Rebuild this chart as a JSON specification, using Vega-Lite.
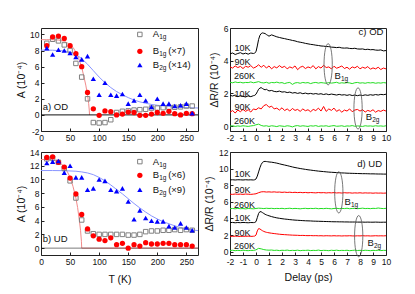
{
"$schema":"https://vega.github.io/schema/vega-lite/v6.json",
"autosize":{"type":"pad"},
"padding":{"left":16,"top":23,"right":2,"bottom":2},
"background":"white",
"config":{
 "font":"Liberation Sans",
 "view":{"stroke":"#222","strokeWidth":1},
 "axis":{"domain":false,"grid":false,"ticks":true,"tickSize":-3,"tickColor":"#222","labelPadding":5,"labelFlush":false,"labelOverlap":false,"labelFontSize":8.5,"labelColor":"#111","titleFontSize":10.5,"titleFontWeight":"normal","titleColor":"#111","labelExpr":"replace(datum.label,'−','-')"}
},
"datasets":{
"pts":[
{"p":"a","s":"A1g","T":10,"A":8.9},{"p":"a","s":"A1g","T":20,"A":9.4},{"p":"a","s":"A1g","T":30,"A":9.2},{"p":"a","s":"A1g","T":40,"A":8.7},{"p":"a","s":"A1g","T":50,"A":8.0},{"p":"a","s":"A1g","T":60,"A":6.4},{"p":"a","s":"A1g","T":70,"A":4.7},{"p":"a","s":"A1g","T":80,"A":2.0},{"p":"a","s":"A1g","T":90,"A":-0.95},{"p":"a","s":"A1g","T":100,"A":-1.0},{"p":"a","s":"A1g","T":110,"A":-0.95},{"p":"a","s":"A1g","T":120,"A":-0.6},{"p":"a","s":"A1g","T":130,"A":0.3},{"p":"a","s":"A1g","T":140,"A":0.45},{"p":"a","s":"A1g","T":150,"A":0.5},{"p":"a","s":"A1g","T":160,"A":0.6},{"p":"a","s":"A1g","T":170,"A":0.65},{"p":"a","s":"A1g","T":180,"A":0.7},{"p":"a","s":"A1g","T":190,"A":0.85},{"p":"a","s":"A1g","T":200,"A":0.85},{"p":"a","s":"A1g","T":210,"A":0.9},{"p":"a","s":"A1g","T":220,"A":0.95},{"p":"a","s":"A1g","T":230,"A":0.95},{"p":"a","s":"A1g","T":240,"A":1.0},{"p":"a","s":"A1g","T":250,"A":1.1},{"p":"a","s":"A1g","T":260,"A":1.1},
{"p":"a","s":"B1g","T":10,"A":8.6},{"p":"a","s":"B1g","T":20,"A":9.7},{"p":"a","s":"B1g","T":30,"A":9.8},{"p":"a","s":"B1g","T":40,"A":9.5},{"p":"a","s":"B1g","T":50,"A":8.6},{"p":"a","s":"B1g","T":60,"A":7.6},{"p":"a","s":"B1g","T":70,"A":6.0},{"p":"a","s":"B1g","T":80,"A":2.8},{"p":"a","s":"B1g","T":90,"A":0.75},{"p":"a","s":"B1g","T":100,"A":-0.05},{"p":"a","s":"B1g","T":110,"A":0.5},{"p":"a","s":"B1g","T":120,"A":0.4},{"p":"a","s":"B1g","T":130,"A":0.0},{"p":"a","s":"B1g","T":140,"A":0.1},{"p":"a","s":"B1g","T":150,"A":0.35},{"p":"a","s":"B1g","T":160,"A":0.3},{"p":"a","s":"B1g","T":170,"A":-0.05},{"p":"a","s":"B1g","T":180,"A":-0.05},{"p":"a","s":"B1g","T":190,"A":0.1},{"p":"a","s":"B1g","T":200,"A":0.3},{"p":"a","s":"B1g","T":210,"A":0.2},{"p":"a","s":"B1g","T":220,"A":0.45},{"p":"a","s":"B1g","T":230,"A":0.15},{"p":"a","s":"B1g","T":240,"A":0.0},{"p":"a","s":"B1g","T":250,"A":0.2},{"p":"a","s":"B1g","T":260,"A":0.15},
{"p":"a","s":"B2g","T":10,"A":8.3},{"p":"a","s":"B2g","T":20,"A":7.5},{"p":"a","s":"B2g","T":30,"A":8.1},{"p":"a","s":"B2g","T":40,"A":8.0},{"p":"a","s":"B2g","T":50,"A":7.7},{"p":"a","s":"B2g","T":60,"A":7.2},{"p":"a","s":"B2g","T":70,"A":6.9},{"p":"a","s":"B2g","T":80,"A":7.3},{"p":"a","s":"B2g","T":90,"A":4.5},{"p":"a","s":"B2g","T":100,"A":2.5},{"p":"a","s":"B2g","T":110,"A":4.0},{"p":"a","s":"B2g","T":120,"A":2.5},{"p":"a","s":"B2g","T":130,"A":2.4},{"p":"a","s":"B2g","T":140,"A":2.6},{"p":"a","s":"B2g","T":150,"A":1.4},{"p":"a","s":"B2g","T":160,"A":1.8},{"p":"a","s":"B2g","T":170,"A":2.5},{"p":"a","s":"B2g","T":180,"A":1.8},{"p":"a","s":"B2g","T":190,"A":1.0},{"p":"a","s":"B2g","T":200,"A":2.0},{"p":"a","s":"B2g","T":210,"A":1.4},{"p":"a","s":"B2g","T":220,"A":1.4},{"p":"a","s":"B2g","T":230,"A":1.1},{"p":"a","s":"B2g","T":240,"A":1.2},{"p":"a","s":"B2g","T":250,"A":1.4},{"p":"a","s":"B2g","T":260,"A":0.2},
{"p":"b","s":"A1g","T":10,"A":13.0},{"p":"b","s":"A1g","T":20,"A":13.1},{"p":"b","s":"A1g","T":30,"A":12.5},{"p":"b","s":"A1g","T":40,"A":11.6},{"p":"b","s":"A1g","T":50,"A":9.8},{"p":"b","s":"A1g","T":60,"A":7.3},{"p":"b","s":"A1g","T":70,"A":4.1},{"p":"b","s":"A1g","T":80,"A":2.5},{"p":"b","s":"A1g","T":90,"A":2.1},{"p":"b","s":"A1g","T":100,"A":2.0},{"p":"b","s":"A1g","T":110,"A":2.0},{"p":"b","s":"A1g","T":120,"A":2.0},{"p":"b","s":"A1g","T":130,"A":2.0},{"p":"b","s":"A1g","T":140,"A":2.0},{"p":"b","s":"A1g","T":150,"A":1.9},{"p":"b","s":"A1g","T":160,"A":1.9},{"p":"b","s":"A1g","T":170,"A":2.0},{"p":"b","s":"A1g","T":180,"A":2.4},{"p":"b","s":"A1g","T":190,"A":2.5},{"p":"b","s":"A1g","T":200,"A":2.5},{"p":"b","s":"A1g","T":210,"A":2.6},{"p":"b","s":"A1g","T":220,"A":2.6},{"p":"b","s":"A1g","T":230,"A":2.7},{"p":"b","s":"A1g","T":240,"A":2.6},{"p":"b","s":"A1g","T":250,"A":2.7},{"p":"b","s":"A1g","T":260,"A":2.6},
{"p":"b","s":"B1g","T":10,"A":13.2},{"p":"b","s":"B1g","T":20,"A":13.3},{"p":"b","s":"B1g","T":30,"A":12.5},{"p":"b","s":"B1g","T":40,"A":11.8},{"p":"b","s":"B1g","T":50,"A":10.2},{"p":"b","s":"B1g","T":60,"A":7.9},{"p":"b","s":"B1g","T":70,"A":4.9},{"p":"b","s":"B1g","T":80,"A":2.8},{"p":"b","s":"B1g","T":90,"A":1.8},{"p":"b","s":"B1g","T":100,"A":1.3},{"p":"b","s":"B1g","T":110,"A":1.1},{"p":"b","s":"B1g","T":120,"A":1.5},{"p":"b","s":"B1g","T":130,"A":0.5},{"p":"b","s":"B1g","T":140,"A":0.7},{"p":"b","s":"B1g","T":150,"A":0.0},{"p":"b","s":"B1g","T":160,"A":0.5},{"p":"b","s":"B1g","T":170,"A":0.3},{"p":"b","s":"B1g","T":180,"A":0.8},{"p":"b","s":"B1g","T":190,"A":0.6},{"p":"b","s":"B1g","T":200,"A":0.6},{"p":"b","s":"B1g","T":210,"A":0.7},{"p":"b","s":"B1g","T":220,"A":0.7},{"p":"b","s":"B1g","T":230,"A":0.5},{"p":"b","s":"B1g","T":240,"A":0.5},{"p":"b","s":"B1g","T":250,"A":0.5},{"p":"b","s":"B1g","T":260,"A":0.3},
{"p":"b","s":"B2g","T":10,"A":12.4},{"p":"b","s":"B2g","T":20,"A":12.6},{"p":"b","s":"B2g","T":30,"A":12.7},{"p":"b","s":"B2g","T":40,"A":11.0},{"p":"b","s":"B2g","T":50,"A":12.0},{"p":"b","s":"B2g","T":60,"A":10.3},{"p":"b","s":"B2g","T":70,"A":10.3},{"p":"b","s":"B2g","T":80,"A":8.5},{"p":"b","s":"B2g","T":90,"A":8.7},{"p":"b","s":"B2g","T":100,"A":10.0},{"p":"b","s":"B2g","T":110,"A":9.8},{"p":"b","s":"B2g","T":120,"A":8.5},{"p":"b","s":"B2g","T":130,"A":8.3},{"p":"b","s":"B2g","T":140,"A":8.7},{"p":"b","s":"B2g","T":150,"A":6.8},{"p":"b","s":"B2g","T":160,"A":4.2},{"p":"b","s":"B2g","T":170,"A":5.5},{"p":"b","s":"B2g","T":180,"A":4.4},{"p":"b","s":"B2g","T":190,"A":4.0},{"p":"b","s":"B2g","T":200,"A":3.9},{"p":"b","s":"B2g","T":210,"A":3.9},{"p":"b","s":"B2g","T":220,"A":3.2},{"p":"b","s":"B2g","T":230,"A":3.0},{"p":"b","s":"B2g","T":240,"A":3.6},{"p":"b","s":"B2g","T":250,"A":3.0},{"p":"b","s":"B2g","T":260,"A":2.6}
],
"fit":[
{"p":"a","s":"fB1g","T":0,"A":9.35},{"p":"a","s":"fB1g","T":10,"A":9.35},{"p":"a","s":"fB1g","T":20,"A":9.34},{"p":"a","s":"fB1g","T":30,"A":9.3},{"p":"a","s":"fB1g","T":40,"A":9.15},{"p":"a","s":"fB1g","T":50,"A":8.75},{"p":"a","s":"fB1g","T":55,"A":8.4},{"p":"a","s":"fB1g","T":60,"A":7.8},{"p":"a","s":"fB1g","T":65,"A":7.0},{"p":"a","s":"fB1g","T":70,"A":5.9},{"p":"a","s":"fB1g","T":74,"A":4.7},{"p":"a","s":"fB1g","T":77,"A":3.7},{"p":"a","s":"fB1g","T":80,"A":2.5},{"p":"a","s":"fB1g","T":82,"A":1.4},{"p":"a","s":"fB1g","T":83,"A":0.6},{"p":"a","s":"fB1g","T":83.5,"A":0},
{"p":"a","s":"fB2g","T":0,"A":8.05},{"p":"a","s":"fB2g","T":20,"A":8.04},{"p":"a","s":"fB2g","T":40,"A":7.95},{"p":"a","s":"fB2g","T":50,"A":7.8},{"p":"a","s":"fB2g","T":60,"A":7.5},{"p":"a","s":"fB2g","T":70,"A":7.0},{"p":"a","s":"fB2g","T":80,"A":6.3},{"p":"a","s":"fB2g","T":90,"A":5.5},{"p":"a","s":"fB2g","T":100,"A":4.7},{"p":"a","s":"fB2g","T":110,"A":4.0},{"p":"a","s":"fB2g","T":120,"A":3.4},{"p":"a","s":"fB2g","T":130,"A":2.9},{"p":"a","s":"fB2g","T":140,"A":2.5},{"p":"a","s":"fB2g","T":150,"A":2.15},{"p":"a","s":"fB2g","T":160,"A":1.85},{"p":"a","s":"fB2g","T":170,"A":1.62},{"p":"a","s":"fB2g","T":180,"A":1.45},{"p":"a","s":"fB2g","T":190,"A":1.3},{"p":"a","s":"fB2g","T":200,"A":1.2},{"p":"a","s":"fB2g","T":220,"A":1.05},{"p":"a","s":"fB2g","T":240,"A":0.95},{"p":"a","s":"fB2g","T":260,"A":0.88},{"p":"a","s":"fB2g","T":270,"A":0.86},
{"p":"b","s":"fB1g","T":0,"A":12.9},{"p":"b","s":"fB1g","T":10,"A":12.9},{"p":"b","s":"fB1g","T":20,"A":12.85},{"p":"b","s":"fB1g","T":30,"A":12.6},{"p":"b","s":"fB1g","T":40,"A":11.9},{"p":"b","s":"fB1g","T":45,"A":11.2},{"p":"b","s":"fB1g","T":50,"A":10.3},{"p":"b","s":"fB1g","T":55,"A":9.0},{"p":"b","s":"fB1g","T":60,"A":7.3},{"p":"b","s":"fB1g","T":63,"A":5.9},{"p":"b","s":"fB1g","T":66,"A":4.0},{"p":"b","s":"fB1g","T":68,"A":2.6},{"p":"b","s":"fB1g","T":69.5,"A":1.0},{"p":"b","s":"fB1g","T":70,"A":0},{"p":"b","s":"fB1g","T":270,"A":0},
{"p":"b","s":"fB2g","T":0,"A":11.3},{"p":"b","s":"fB2g","T":20,"A":11.3},{"p":"b","s":"fB2g","T":40,"A":11.28},{"p":"b","s":"fB2g","T":60,"A":11.2},{"p":"b","s":"fB2g","T":70,"A":11.1},{"p":"b","s":"fB2g","T":80,"A":10.95},{"p":"b","s":"fB2g","T":90,"A":10.7},{"p":"b","s":"fB2g","T":100,"A":10.3},{"p":"b","s":"fB2g","T":110,"A":9.8},{"p":"b","s":"fB2g","T":120,"A":9.2},{"p":"b","s":"fB2g","T":130,"A":8.55},{"p":"b","s":"fB2g","T":140,"A":7.9},{"p":"b","s":"fB2g","T":150,"A":7.2},{"p":"b","s":"fB2g","T":160,"A":6.5},{"p":"b","s":"fB2g","T":170,"A":5.85},{"p":"b","s":"fB2g","T":180,"A":5.25},{"p":"b","s":"fB2g","T":190,"A":4.7},{"p":"b","s":"fB2g","T":200,"A":4.25},{"p":"b","s":"fB2g","T":210,"A":3.85},{"p":"b","s":"fB2g","T":220,"A":3.55},{"p":"b","s":"fB2g","T":230,"A":3.25},{"p":"b","s":"fB2g","T":240,"A":3.0},{"p":"b","s":"fB2g","T":250,"A":2.8},{"p":"b","s":"fB2g","T":260,"A":2.65},{"p":"b","s":"fB2g","T":270,"A":2.55}
],
"legA":[{"s":"A1g","T":170,"A":10.0},{"s":"B1g","T":170,"A":7.9},{"s":"B2g","T":170,"A":6.2}],
"legAt":[{"T":192,"A":10.0,"m":"A","sub":"1g","x":""},{"T":192,"A":7.9,"m":"B","sub":"1g","x":"(×7)"},{"T":192,"A":6.2,"m":"B","sub":"2g","x":"(×14)"}],
"legB":[{"s":"A1g","T":170,"A":12.6},{"s":"B1g","T":170,"A":10.6},{"s":"B2g","T":170,"A":8.5}],
"legBt":[{"T":192,"A":12.6,"m":"A","sub":"1g","x":""},{"T":192,"A":10.6,"m":"B","sub":"1g","x":"(×6)"},{"T":192,"A":8.5,"m":"B","sub":"2g","x":"(×9)"}],
"lab":[
{"p":"c","t":-1.65,"v":4.8,"txt":"10K"},{"p":"c","t":-1.65,"v":3.95,"txt":"90K"},{"p":"c","t":-1.7,"v":3.07,"txt":"260K"},{"p":"c","t":-1.65,"v":1.95,"txt":"10K"},{"p":"c","t":-1.65,"v":1.15,"txt":"90K"},{"p":"c","t":-1.7,"v":0.33,"txt":"260K"},
{"p":"d","t":-1.65,"v":9.3,"txt":"10K"},{"p":"d","t":-1.65,"v":7.4,"txt":"90K"},{"p":"d","t":-1.7,"v":5.6,"txt":"260K"},{"p":"d","t":-1.65,"v":4.1,"txt":"10K"},{"p":"d","t":-1.65,"v":2.3,"txt":"90K"},{"p":"d","t":-1.7,"v":0.67,"txt":"260K"}
],
"ell":[{"p":"c","t":5.55,"v":3.78},{"p":"c","t":7.85,"v":1.08},{"p":"d","t":6.37,"v":7.14},{"p":"d","t":7.9,"v":1.87}],
"bl":[{"p":"c","t":6.03,"v":3.05,"m":"B","sub":"1g"},{"p":"c","t":8.44,"v":0.55,"m":"B","sub":"2g"},{"p":"d","t":6.8,"v":6.0,"m":"B","sub":"1g"},{"p":"d","t":8.57,"v":1.07,"m":"B","sub":"2g"}],
"tr":[
{"k":"c1","t":-2,"v":4.42},{"k":"c1","t":-1.8,"v":4.47},{"k":"c1","t":-1.6,"v":4.38},{"k":"c1","t":-1.4,"v":4.44},{"k":"c1","t":-1.2,"v":4.49},{"k":"c1","t":-1,"v":4.41},{"k":"c1","t":-0.8,"v":4.46},{"k":"c1","t":-0.6,"v":4.4},{"k":"c1","t":-0.4,"v":4.47},{"k":"c1","t":-0.2,"v":4.44},{"k":"c1","t":-0.1,"v":4.47},{"k":"c1","t":0,"v":4.55},{"k":"c1","t":0.1,"v":4.9},{"k":"c1","t":0.2,"v":5.3},{"k":"c1","t":0.3,"v":5.55},{"k":"c1","t":0.4,"v":5.66},{"k":"c1","t":0.5,"v":5.7},{"k":"c1","t":0.6,"v":5.68},{"k":"c1","t":0.7,"v":5.66},{"k":"c1","t":0.8,"v":5.6},{"k":"c1","t":0.9,"v":5.55},{"k":"c1","t":1,"v":5.5},{"k":"c1","t":1.2,"v":5.58},{"k":"c1","t":1.4,"v":5.52},{"k":"c1","t":1.6,"v":5.46},{"k":"c1","t":1.8,"v":5.42},{"k":"c1","t":2,"v":5.38},{"k":"c1","t":2.2,"v":5.35},{"k":"c1","t":2.4,"v":5.31},{"k":"c1","t":2.6,"v":5.28},{"k":"c1","t":2.8,"v":5.24},{"k":"c1","t":3,"v":5.21},{"k":"c1","t":3.2,"v":5.16},{"k":"c1","t":3.4,"v":5.13},{"k":"c1","t":3.6,"v":5.1},{"k":"c1","t":3.8,"v":5.06},{"k":"c1","t":4,"v":5.03},{"k":"c1","t":4.2,"v":5.0},{"k":"c1","t":4.4,"v":4.98},{"k":"c1","t":4.6,"v":4.95},{"k":"c1","t":4.8,"v":4.93},{"k":"c1","t":5,"v":4.9},{"k":"c1","t":5.2,"v":4.89},{"k":"c1","t":5.4,"v":4.87},{"k":"c1","t":5.6,"v":4.86},{"k":"c1","t":5.8,"v":4.83},{"k":"c1","t":6,"v":4.82},{"k":"c1","t":6.2,"v":4.8},{"k":"c1","t":6.4,"v":4.82},{"k":"c1","t":6.6,"v":4.78},{"k":"c1","t":6.8,"v":4.77},{"k":"c1","t":7,"v":4.78},{"k":"c1","t":7.2,"v":4.75},{"k":"c1","t":7.4,"v":4.74},{"k":"c1","t":7.6,"v":4.76},{"k":"c1","t":7.8,"v":4.72},{"k":"c1","t":8,"v":4.71},{"k":"c1","t":8.2,"v":4.72},{"k":"c1","t":8.4,"v":4.68},{"k":"c1","t":8.6,"v":4.7},{"k":"c1","t":8.8,"v":4.67},{"k":"c1","t":9,"v":4.68},{"k":"c1","t":9.2,"v":4.65},{"k":"c1","t":9.4,"v":4.64},{"k":"c1","t":9.6,"v":4.66},{"k":"c1","t":9.8,"v":4.6},{"k":"c1","t":10,"v":4.62},
{"k":"c2","t":-2,"v":3.62},{"k":"c2","t":-1.8,"v":3.55},{"k":"c2","t":-1.6,"v":3.68},{"k":"c2","t":-1.4,"v":3.58},{"k":"c2","t":-1.2,"v":3.65},{"k":"c2","t":-1,"v":3.52},{"k":"c2","t":-0.8,"v":3.66},{"k":"c2","t":-0.6,"v":3.6},{"k":"c2","t":-0.4,"v":3.7},{"k":"c2","t":-0.2,"v":3.55},{"k":"c2","t":0,"v":3.62},{"k":"c2","t":0.2,"v":3.75},{"k":"c2","t":0.4,"v":3.6},{"k":"c2","t":0.6,"v":3.72},{"k":"c2","t":0.8,"v":3.55},{"k":"c2","t":1,"v":3.68},{"k":"c2","t":1.2,"v":3.5},{"k":"c2","t":1.4,"v":3.64},{"k":"c2","t":1.6,"v":3.56},{"k":"c2","t":1.8,"v":3.7},{"k":"c2","t":2,"v":3.58},{"k":"c2","t":2.2,"v":3.66},{"k":"c2","t":2.4,"v":3.5},{"k":"c2","t":2.6,"v":3.62},{"k":"c2","t":2.8,"v":3.55},{"k":"c2","t":3,"v":3.68},{"k":"c2","t":3.2,"v":3.45},{"k":"c2","t":3.4,"v":3.6},{"k":"c2","t":3.6,"v":3.66},{"k":"c2","t":3.8,"v":3.52},{"k":"c2","t":4,"v":3.62},{"k":"c2","t":4.2,"v":3.56},{"k":"c2","t":4.4,"v":3.7},{"k":"c2","t":4.6,"v":3.5},{"k":"c2","t":4.8,"v":3.64},{"k":"c2","t":5,"v":3.55},{"k":"c2","t":5.2,"v":3.72},{"k":"c2","t":5.4,"v":3.58},{"k":"c2","t":5.6,"v":3.62},{"k":"c2","t":5.8,"v":3.5},{"k":"c2","t":6,"v":3.66},{"k":"c2","t":6.2,"v":3.54},{"k":"c2","t":6.4,"v":3.6},{"k":"c2","t":6.6,"v":3.68},{"k":"c2","t":6.8,"v":3.52},{"k":"c2","t":7,"v":3.6},{"k":"c2","t":7.2,"v":3.48},{"k":"c2","t":7.4,"v":3.62},{"k":"c2","t":7.6,"v":3.56},{"k":"c2","t":7.8,"v":3.66},{"k":"c2","t":8,"v":3.5},{"k":"c2","t":8.2,"v":3.6},{"k":"c2","t":8.4,"v":3.54},{"k":"c2","t":8.6,"v":3.64},{"k":"c2","t":8.8,"v":3.48},{"k":"c2","t":9,"v":3.56},{"k":"c2","t":9.2,"v":3.5},{"k":"c2","t":9.4,"v":3.6},{"k":"c2","t":9.6,"v":3.46},{"k":"c2","t":9.8,"v":3.55},{"k":"c2","t":10,"v":3.5},
{"k":"c3","t":-2,"v":2.68},{"k":"c3","t":-1.8,"v":2.65},{"k":"c3","t":-1.6,"v":2.7},{"k":"c3","t":-1.4,"v":2.66},{"k":"c3","t":-1.2,"v":2.68},{"k":"c3","t":-1,"v":2.64},{"k":"c3","t":-0.8,"v":2.67},{"k":"c3","t":-0.6,"v":2.66},{"k":"c3","t":-0.4,"v":2.7},{"k":"c3","t":-0.2,"v":2.65},{"k":"c3","t":0,"v":2.68},{"k":"c3","t":0.2,"v":2.72},{"k":"c3","t":0.4,"v":2.66},{"k":"c3","t":0.6,"v":2.64},{"k":"c3","t":0.8,"v":2.68},{"k":"c3","t":1,"v":2.62},{"k":"c3","t":1.2,"v":2.67},{"k":"c3","t":1.4,"v":2.65},{"k":"c3","t":1.6,"v":2.69},{"k":"c3","t":1.8,"v":2.64},{"k":"c3","t":2,"v":2.66},{"k":"c3","t":2.2,"v":2.6},{"k":"c3","t":2.4,"v":2.65},{"k":"c3","t":2.6,"v":2.67},{"k":"c3","t":2.8,"v":2.55},{"k":"c3","t":3,"v":2.64},{"k":"c3","t":3.2,"v":2.66},{"k":"c3","t":3.4,"v":2.62},{"k":"c3","t":3.6,"v":2.67},{"k":"c3","t":3.8,"v":2.64},{"k":"c3","t":4,"v":2.66},{"k":"c3","t":4.2,"v":2.6},{"k":"c3","t":4.4,"v":2.65},{"k":"c3","t":4.6,"v":2.67},{"k":"c3","t":4.8,"v":2.63},{"k":"c3","t":5,"v":2.66},{"k":"c3","t":5.2,"v":2.64},{"k":"c3","t":5.4,"v":2.62},{"k":"c3","t":5.6,"v":2.66},{"k":"c3","t":5.8,"v":2.63},{"k":"c3","t":6,"v":2.65},{"k":"c3","t":6.2,"v":2.68},{"k":"c3","t":6.4,"v":2.62},{"k":"c3","t":6.6,"v":2.65},{"k":"c3","t":6.8,"v":2.63},{"k":"c3","t":7,"v":2.66},{"k":"c3","t":7.2,"v":2.64},{"k":"c3","t":7.4,"v":2.6},{"k":"c3","t":7.6,"v":2.65},{"k":"c3","t":7.8,"v":2.67},{"k":"c3","t":8,"v":2.63},{"k":"c3","t":8.2,"v":2.65},{"k":"c3","t":8.4,"v":2.62},{"k":"c3","t":8.6,"v":2.66},{"k":"c3","t":8.8,"v":2.64},{"k":"c3","t":9,"v":2.66},{"k":"c3","t":9.2,"v":2.62},{"k":"c3","t":9.4,"v":2.65},{"k":"c3","t":9.6,"v":2.63},{"k":"c3","t":9.8,"v":2.66},{"k":"c3","t":10,"v":2.64},
{"k":"c4","t":-2,"v":1.88},{"k":"c4","t":-1.8,"v":1.84},{"k":"c4","t":-1.6,"v":1.9},{"k":"c4","t":-1.4,"v":1.8},{"k":"c4","t":-1.2,"v":1.86},{"k":"c4","t":-1,"v":1.82},{"k":"c4","t":-0.8,"v":1.78},{"k":"c4","t":-0.6,"v":1.85},{"k":"c4","t":-0.4,"v":1.8},{"k":"c4","t":-0.2,"v":1.86},{"k":"c4","t":-0.1,"v":1.88},{"k":"c4","t":0,"v":1.95},{"k":"c4","t":0.1,"v":2.1},{"k":"c4","t":0.2,"v":2.25},{"k":"c4","t":0.3,"v":2.33},{"k":"c4","t":0.4,"v":2.35},{"k":"c4","t":0.5,"v":2.3},{"k":"c4","t":0.6,"v":2.25},{"k":"c4","t":0.7,"v":2.22},{"k":"c4","t":0.8,"v":2.25},{"k":"c4","t":0.9,"v":2.2},{"k":"c4","t":1,"v":2.15},{"k":"c4","t":1.2,"v":2.18},{"k":"c4","t":1.4,"v":2.12},{"k":"c4","t":1.6,"v":2.1},{"k":"c4","t":1.8,"v":2.14},{"k":"c4","t":2,"v":2.08},{"k":"c4","t":2.2,"v":2.1},{"k":"c4","t":2.4,"v":2.05},{"k":"c4","t":2.6,"v":2.08},{"k":"c4","t":2.8,"v":2.02},{"k":"c4","t":3,"v":2.05},{"k":"c4","t":3.2,"v":2.0},{"k":"c4","t":3.4,"v":2.04},{"k":"c4","t":3.6,"v":1.98},{"k":"c4","t":3.8,"v":2.02},{"k":"c4","t":4,"v":1.97},{"k":"c4","t":4.2,"v":2.0},{"k":"c4","t":4.4,"v":1.96},{"k":"c4","t":4.6,"v":1.99},{"k":"c4","t":4.8,"v":1.95},{"k":"c4","t":5,"v":1.98},{"k":"c4","t":5.2,"v":1.93},{"k":"c4","t":5.4,"v":1.97},{"k":"c4","t":5.6,"v":1.92},{"k":"c4","t":5.8,"v":1.96},{"k":"c4","t":6,"v":1.93},{"k":"c4","t":6.2,"v":1.9},{"k":"c4","t":6.4,"v":1.94},{"k":"c4","t":6.6,"v":1.9},{"k":"c4","t":6.8,"v":1.92},{"k":"c4","t":7,"v":1.88},{"k":"c4","t":7.2,"v":1.92},{"k":"c4","t":7.4,"v":1.87},{"k":"c4","t":7.6,"v":1.9},{"k":"c4","t":7.8,"v":1.86},{"k":"c4","t":8,"v":1.9},{"k":"c4","t":8.2,"v":1.87},{"k":"c4","t":8.4,"v":1.91},{"k":"c4","t":8.6,"v":1.88},{"k":"c4","t":8.8,"v":1.92},{"k":"c4","t":9,"v":1.89},{"k":"c4","t":9.2,"v":1.93},{"k":"c4","t":9.4,"v":1.9},{"k":"c4","t":9.6,"v":1.94},{"k":"c4","t":9.8,"v":1.92},{"k":"c4","t":10,"v":1.95},
{"k":"c5","t":-2,"v":0.85},{"k":"c5","t":-1.8,"v":0.95},{"k":"c5","t":-1.6,"v":0.8},{"k":"c5","t":-1.4,"v":0.98},{"k":"c5","t":-1.2,"v":0.88},{"k":"c5","t":-1,"v":1.02},{"k":"c5","t":-0.8,"v":0.9},{"k":"c5","t":-0.6,"v":1.0},{"k":"c5","t":-0.4,"v":0.86},{"k":"c5","t":-0.2,"v":1.05},{"k":"c5","t":0,"v":1.0},{"k":"c5","t":0.2,"v":1.12},{"k":"c5","t":0.4,"v":1.05},{"k":"c5","t":0.6,"v":1.25},{"k":"c5","t":0.8,"v":1.32},{"k":"c5","t":1,"v":1.15},{"k":"c5","t":1.2,"v":1.22},{"k":"c5","t":1.4,"v":1.05},{"k":"c5","t":1.6,"v":1.1},{"k":"c5","t":1.8,"v":0.98},{"k":"c5","t":2,"v":1.12},{"k":"c5","t":2.2,"v":0.95},{"k":"c5","t":2.4,"v":1.05},{"k":"c5","t":2.6,"v":0.92},{"k":"c5","t":2.8,"v":1.08},{"k":"c5","t":3,"v":0.96},{"k":"c5","t":3.2,"v":1.02},{"k":"c5","t":3.4,"v":0.9},{"k":"c5","t":3.6,"v":1.05},{"k":"c5","t":3.8,"v":0.94},{"k":"c5","t":4,"v":1.0},{"k":"c5","t":4.2,"v":0.88},{"k":"c5","t":4.4,"v":1.02},{"k":"c5","t":4.6,"v":0.95},{"k":"c5","t":4.8,"v":1.1},{"k":"c5","t":5,"v":0.92},{"k":"c5","t":5.2,"v":1.2},{"k":"c5","t":5.4,"v":0.9},{"k":"c5","t":5.6,"v":1.05},{"k":"c5","t":5.8,"v":0.96},{"k":"c5","t":6,"v":1.1},{"k":"c5","t":6.2,"v":0.9},{"k":"c5","t":6.4,"v":1.0},{"k":"c5","t":6.6,"v":0.85},{"k":"c5","t":6.8,"v":0.98},{"k":"c5","t":7,"v":0.92},{"k":"c5","t":7.2,"v":1.05},{"k":"c5","t":7.4,"v":0.88},{"k":"c5","t":7.6,"v":0.98},{"k":"c5","t":7.8,"v":1.02},{"k":"c5","t":8,"v":0.92},{"k":"c5","t":8.2,"v":1.0},{"k":"c5","t":8.4,"v":0.86},{"k":"c5","t":8.6,"v":0.96},{"k":"c5","t":8.8,"v":0.9},{"k":"c5","t":9,"v":1.0},{"k":"c5","t":9.2,"v":0.85},{"k":"c5","t":9.4,"v":0.95},{"k":"c5","t":9.6,"v":0.9},{"k":"c5","t":9.8,"v":0.98},{"k":"c5","t":10,"v":0.92},
{"k":"c6","t":-2,"v":0.0},{"k":"c6","t":-1.8,"v":0.02},{"k":"c6","t":-1.6,"v":-0.02},{"k":"c6","t":-1.4,"v":0.01},{"k":"c6","t":-1.2,"v":-0.01},{"k":"c6","t":-1,"v":0.02},{"k":"c6","t":-0.8,"v":0.0},{"k":"c6","t":-0.6,"v":-0.02},{"k":"c6","t":-0.4,"v":0.01},{"k":"c6","t":-0.2,"v":0.03},{"k":"c6","t":0,"v":0.08},{"k":"c6","t":0.2,"v":0.12},{"k":"c6","t":0.4,"v":0.04},{"k":"c6","t":0.6,"v":0.0},{"k":"c6","t":0.8,"v":0.02},{"k":"c6","t":1,"v":-0.02},{"k":"c6","t":1.2,"v":0.02},{"k":"c6","t":1.4,"v":0.0},{"k":"c6","t":1.6,"v":-0.03},{"k":"c6","t":1.8,"v":0.02},{"k":"c6","t":2,"v":0.0},{"k":"c6","t":2.2,"v":-0.02},{"k":"c6","t":2.4,"v":0.02},{"k":"c6","t":2.6,"v":0.0},{"k":"c6","t":2.8,"v":-0.05},{"k":"c6","t":3,"v":0.01},{"k":"c6","t":3.2,"v":0.03},{"k":"c6","t":3.4,"v":-0.01},{"k":"c6","t":3.6,"v":0.02},{"k":"c6","t":3.8,"v":0.0},{"k":"c6","t":4,"v":-0.02},{"k":"c6","t":4.2,"v":0.02},{"k":"c6","t":4.4,"v":0.0},{"k":"c6","t":4.6,"v":0.03},{"k":"c6","t":4.8,"v":-0.02},{"k":"c6","t":5,"v":0.01},{"k":"c6","t":5.2,"v":0.0},{"k":"c6","t":5.4,"v":0.02},{"k":"c6","t":5.6,"v":-0.02},{"k":"c6","t":5.8,"v":0.01},{"k":"c6","t":6,"v":0.03},{"k":"c6","t":6.2,"v":-0.01},{"k":"c6","t":6.4,"v":0.0},{"k":"c6","t":6.6,"v":0.02},{"k":"c6","t":6.8,"v":-0.02},{"k":"c6","t":7,"v":0.01},{"k":"c6","t":7.2,"v":0.0},{"k":"c6","t":7.4,"v":0.03},{"k":"c6","t":7.6,"v":-0.01},{"k":"c6","t":7.8,"v":0.01},{"k":"c6","t":8,"v":0.0},{"k":"c6","t":8.2,"v":-0.02},{"k":"c6","t":8.4,"v":0.02},{"k":"c6","t":8.6,"v":0.0},{"k":"c6","t":8.8,"v":0.01},{"k":"c6","t":9,"v":-0.01},{"k":"c6","t":9.2,"v":0.02},{"k":"c6","t":9.4,"v":0.0},{"k":"c6","t":9.6,"v":0.01},{"k":"c6","t":9.8,"v":-0.01},{"k":"c6","t":10,"v":0.02},
{"k":"d1","t":-2,"v":8.64},{"k":"d1","t":-1.8,"v":8.66},{"k":"d1","t":-1.6,"v":8.63},{"k":"d1","t":-1.4,"v":8.66},{"k":"d1","t":-1.2,"v":8.65},{"k":"d1","t":-1,"v":8.63},{"k":"d1","t":-0.8,"v":8.66},{"k":"d1","t":-0.6,"v":8.64},{"k":"d1","t":-0.4,"v":8.65},{"k":"d1","t":-0.2,"v":8.63},{"k":"d1","t":-0.1,"v":8.66},{"k":"d1","t":0,"v":8.75},{"k":"d1","t":0.1,"v":9.1},{"k":"d1","t":0.2,"v":9.6},{"k":"d1","t":0.3,"v":10.1},{"k":"d1","t":0.4,"v":10.5},{"k":"d1","t":0.5,"v":10.75},{"k":"d1","t":0.6,"v":10.85},{"k":"d1","t":0.7,"v":10.87},{"k":"d1","t":0.8,"v":10.85},{"k":"d1","t":0.9,"v":10.83},{"k":"d1","t":1,"v":10.8},{"k":"d1","t":1.2,"v":10.77},{"k":"d1","t":1.4,"v":10.72},{"k":"d1","t":1.6,"v":10.66},{"k":"d1","t":1.8,"v":10.58},{"k":"d1","t":2,"v":10.5},{"k":"d1","t":2.2,"v":10.43},{"k":"d1","t":2.4,"v":10.36},{"k":"d1","t":2.6,"v":10.28},{"k":"d1","t":2.8,"v":10.2},{"k":"d1","t":3,"v":10.13},{"k":"d1","t":3.2,"v":10.07},{"k":"d1","t":3.4,"v":10.01},{"k":"d1","t":3.6,"v":9.96},{"k":"d1","t":3.8,"v":9.91},{"k":"d1","t":4,"v":9.86},{"k":"d1","t":4.2,"v":9.82},{"k":"d1","t":4.4,"v":9.78},{"k":"d1","t":4.6,"v":9.74},{"k":"d1","t":4.8,"v":9.7},{"k":"d1","t":5,"v":9.67},{"k":"d1","t":5.2,"v":9.64},{"k":"d1","t":5.4,"v":9.61},{"k":"d1","t":5.6,"v":9.58},{"k":"d1","t":5.8,"v":9.56},{"k":"d1","t":6,"v":9.54},{"k":"d1","t":6.2,"v":9.52},{"k":"d1","t":6.4,"v":9.5},{"k":"d1","t":6.6,"v":9.48},{"k":"d1","t":6.8,"v":9.47},{"k":"d1","t":7,"v":9.45},{"k":"d1","t":7.2,"v":9.44},{"k":"d1","t":7.4,"v":9.43},{"k":"d1","t":7.6,"v":9.42},{"k":"d1","t":7.8,"v":9.41},{"k":"d1","t":8,"v":9.4},{"k":"d1","t":8.2,"v":9.39},{"k":"d1","t":8.4,"v":9.39},{"k":"d1","t":8.6,"v":9.38},{"k":"d1","t":8.8,"v":9.37},{"k":"d1","t":9,"v":9.37},{"k":"d1","t":9.2,"v":9.36},{"k":"d1","t":9.4,"v":9.35},{"k":"d1","t":9.6,"v":9.35},{"k":"d1","t":9.8,"v":9.34},{"k":"d1","t":10,"v":9.34},
{"k":"d2","t":-2,"v":6.92},{"k":"d2","t":-1.8,"v":6.9},{"k":"d2","t":-1.6,"v":6.94},{"k":"d2","t":-1.4,"v":6.91},{"k":"d2","t":-1.2,"v":6.93},{"k":"d2","t":-1,"v":6.9},{"k":"d2","t":-0.8,"v":6.94},{"k":"d2","t":-0.6,"v":6.92},{"k":"d2","t":-0.4,"v":6.9},{"k":"d2","t":-0.2,"v":6.93},{"k":"d2","t":0,"v":6.97},{"k":"d2","t":0.2,"v":7.1},{"k":"d2","t":0.4,"v":7.2},{"k":"d2","t":0.6,"v":7.22},{"k":"d2","t":0.8,"v":7.18},{"k":"d2","t":1,"v":7.2},{"k":"d2","t":1.2,"v":7.17},{"k":"d2","t":1.4,"v":7.2},{"k":"d2","t":1.6,"v":7.16},{"k":"d2","t":1.8,"v":7.18},{"k":"d2","t":2,"v":7.14},{"k":"d2","t":2.2,"v":7.17},{"k":"d2","t":2.4,"v":7.13},{"k":"d2","t":2.6,"v":7.16},{"k":"d2","t":2.8,"v":7.12},{"k":"d2","t":3,"v":7.15},{"k":"d2","t":3.2,"v":7.11},{"k":"d2","t":3.4,"v":7.14},{"k":"d2","t":3.6,"v":7.1},{"k":"d2","t":3.8,"v":7.13},{"k":"d2","t":4,"v":7.09},{"k":"d2","t":4.2,"v":7.12},{"k":"d2","t":4.4,"v":7.1},{"k":"d2","t":4.6,"v":7.08},{"k":"d2","t":4.8,"v":7.12},{"k":"d2","t":5,"v":7.09},{"k":"d2","t":5.2,"v":7.11},{"k":"d2","t":5.4,"v":7.07},{"k":"d2","t":5.6,"v":7.1},{"k":"d2","t":5.8,"v":7.08},{"k":"d2","t":6,"v":7.11},{"k":"d2","t":6.2,"v":7.07},{"k":"d2","t":6.4,"v":7.09},{"k":"d2","t":6.6,"v":7.06},{"k":"d2","t":6.8,"v":7.1},{"k":"d2","t":7,"v":7.07},{"k":"d2","t":7.2,"v":7.09},{"k":"d2","t":7.4,"v":7.05},{"k":"d2","t":7.6,"v":7.08},{"k":"d2","t":7.8,"v":7.06},{"k":"d2","t":8,"v":7.09},{"k":"d2","t":8.2,"v":7.05},{"k":"d2","t":8.4,"v":7.08},{"k":"d2","t":8.6,"v":7.06},{"k":"d2","t":8.8,"v":7.07},{"k":"d2","t":9,"v":7.04},{"k":"d2","t":9.2,"v":7.07},{"k":"d2","t":9.4,"v":7.05},{"k":"d2","t":9.6,"v":7.06},{"k":"d2","t":9.8,"v":7.04},{"k":"d2","t":10,"v":7.06},
{"k":"d3","t":-2,"v":5.18},{"k":"d3","t":-1.8,"v":5.2},{"k":"d3","t":-1.6,"v":5.16},{"k":"d3","t":-1.4,"v":5.21},{"k":"d3","t":-1.2,"v":5.17},{"k":"d3","t":-1,"v":5.19},{"k":"d3","t":-0.8,"v":5.15},{"k":"d3","t":-0.6,"v":5.2},{"k":"d3","t":-0.4,"v":5.18},{"k":"d3","t":-0.2,"v":5.16},{"k":"d3","t":0,"v":5.2},{"k":"d3","t":0.2,"v":5.24},{"k":"d3","t":0.4,"v":5.22},{"k":"d3","t":0.6,"v":5.19},{"k":"d3","t":0.8,"v":5.23},{"k":"d3","t":1,"v":5.2},{"k":"d3","t":1.2,"v":5.22},{"k":"d3","t":1.4,"v":5.18},{"k":"d3","t":1.6,"v":5.21},{"k":"d3","t":1.8,"v":5.19},{"k":"d3","t":2,"v":5.22},{"k":"d3","t":2.2,"v":5.17},{"k":"d3","t":2.4,"v":5.2},{"k":"d3","t":2.6,"v":5.23},{"k":"d3","t":2.8,"v":5.18},{"k":"d3","t":3,"v":5.21},{"k":"d3","t":3.2,"v":5.19},{"k":"d3","t":3.4,"v":5.16},{"k":"d3","t":3.6,"v":5.2},{"k":"d3","t":3.8,"v":5.22},{"k":"d3","t":4,"v":5.18},{"k":"d3","t":4.2,"v":5.21},{"k":"d3","t":4.4,"v":5.19},{"k":"d3","t":4.6,"v":5.23},{"k":"d3","t":4.8,"v":5.17},{"k":"d3","t":5,"v":5.2},{"k":"d3","t":5.2,"v":5.18},{"k":"d3","t":5.4,"v":5.22},{"k":"d3","t":5.6,"v":5.19},{"k":"d3","t":5.8,"v":5.16},{"k":"d3","t":6,"v":5.2},{"k":"d3","t":6.2,"v":5.22},{"k":"d3","t":6.4,"v":5.18},{"k":"d3","t":6.6,"v":5.21},{"k":"d3","t":6.8,"v":5.19},{"k":"d3","t":7,"v":5.23},{"k":"d3","t":7.2,"v":5.17},{"k":"d3","t":7.4,"v":5.2},{"k":"d3","t":7.6,"v":5.22},{"k":"d3","t":7.8,"v":5.18},{"k":"d3","t":8,"v":5.2},{"k":"d3","t":8.2,"v":5.24},{"k":"d3","t":8.4,"v":5.19},{"k":"d3","t":8.6,"v":5.21},{"k":"d3","t":8.8,"v":5.18},{"k":"d3","t":9,"v":5.22},{"k":"d3","t":9.2,"v":5.2},{"k":"d3","t":9.4,"v":5.26},{"k":"d3","t":9.6,"v":5.21},{"k":"d3","t":9.8,"v":5.19},{"k":"d3","t":10,"v":5.22},
{"k":"d4","t":-2,"v":3.5},{"k":"d4","t":-1.8,"v":3.52},{"k":"d4","t":-1.6,"v":3.48},{"k":"d4","t":-1.4,"v":3.51},{"k":"d4","t":-1.2,"v":3.49},{"k":"d4","t":-1,"v":3.52},{"k":"d4","t":-0.8,"v":3.5},{"k":"d4","t":-0.6,"v":3.48},{"k":"d4","t":-0.4,"v":3.51},{"k":"d4","t":-0.2,"v":3.5},{"k":"d4","t":-0.1,"v":3.52},{"k":"d4","t":0,"v":3.62},{"k":"d4","t":0.1,"v":4.1},{"k":"d4","t":0.2,"v":4.6},{"k":"d4","t":0.3,"v":4.82},{"k":"d4","t":0.4,"v":4.8},{"k":"d4","t":0.5,"v":4.7},{"k":"d4","t":0.6,"v":4.6},{"k":"d4","t":0.7,"v":4.5},{"k":"d4","t":0.8,"v":4.43},{"k":"d4","t":0.9,"v":4.37},{"k":"d4","t":1,"v":4.32},{"k":"d4","t":1.2,"v":4.22},{"k":"d4","t":1.4,"v":4.14},{"k":"d4","t":1.6,"v":4.07},{"k":"d4","t":1.8,"v":4.02},{"k":"d4","t":2,"v":3.97},{"k":"d4","t":2.2,"v":3.93},{"k":"d4","t":2.4,"v":3.9},{"k":"d4","t":2.6,"v":3.86},{"k":"d4","t":2.8,"v":3.83},{"k":"d4","t":3,"v":3.8},{"k":"d4","t":3.2,"v":3.78},{"k":"d4","t":3.4,"v":3.76},{"k":"d4","t":3.6,"v":3.74},{"k":"d4","t":3.8,"v":3.72},{"k":"d4","t":4,"v":3.71},{"k":"d4","t":4.2,"v":3.7},{"k":"d4","t":4.4,"v":3.68},{"k":"d4","t":4.6,"v":3.67},{"k":"d4","t":4.8,"v":3.66},{"k":"d4","t":5,"v":3.65},{"k":"d4","t":5.2,"v":3.64},{"k":"d4","t":5.4,"v":3.63},{"k":"d4","t":5.6,"v":3.62},{"k":"d4","t":5.8,"v":3.61},{"k":"d4","t":6,"v":3.6},{"k":"d4","t":6.2,"v":3.6},{"k":"d4","t":6.4,"v":3.59},{"k":"d4","t":6.6,"v":3.59},{"k":"d4","t":6.8,"v":3.58},{"k":"d4","t":7,"v":3.58},{"k":"d4","t":7.2,"v":3.57},{"k":"d4","t":7.4,"v":3.57},{"k":"d4","t":7.6,"v":3.57},{"k":"d4","t":7.8,"v":3.56},{"k":"d4","t":8,"v":3.56},{"k":"d4","t":8.2,"v":3.56},{"k":"d4","t":8.4,"v":3.55},{"k":"d4","t":8.6,"v":3.56},{"k":"d4","t":8.8,"v":3.55},{"k":"d4","t":9,"v":3.55},{"k":"d4","t":9.2,"v":3.56},{"k":"d4","t":9.4,"v":3.55},{"k":"d4","t":9.6,"v":3.54},{"k":"d4","t":9.8,"v":3.55},{"k":"d4","t":10,"v":3.55},
{"k":"d5","t":-2,"v":1.86},{"k":"d5","t":-1.8,"v":1.84},{"k":"d5","t":-1.6,"v":1.87},{"k":"d5","t":-1.4,"v":1.85},{"k":"d5","t":-1.2,"v":1.83},{"k":"d5","t":-1,"v":1.86},{"k":"d5","t":-0.8,"v":1.85},{"k":"d5","t":-0.6,"v":1.87},{"k":"d5","t":-0.4,"v":1.84},{"k":"d5","t":-0.2,"v":1.86},{"k":"d5","t":-0.1,"v":1.88},{"k":"d5","t":0,"v":2.0},{"k":"d5","t":0.1,"v":2.5},{"k":"d5","t":0.2,"v":2.78},{"k":"d5","t":0.3,"v":2.74},{"k":"d5","t":0.4,"v":2.62},{"k":"d5","t":0.5,"v":2.52},{"k":"d5","t":0.6,"v":2.44},{"k":"d5","t":0.7,"v":2.38},{"k":"d5","t":0.8,"v":2.33},{"k":"d5","t":0.9,"v":2.3},{"k":"d5","t":1,"v":2.27},{"k":"d5","t":1.2,"v":2.22},{"k":"d5","t":1.4,"v":2.18},{"k":"d5","t":1.6,"v":2.14},{"k":"d5","t":1.8,"v":2.1},{"k":"d5","t":2,"v":2.07},{"k":"d5","t":2.2,"v":2.05},{"k":"d5","t":2.4,"v":2.03},{"k":"d5","t":2.6,"v":2.01},{"k":"d5","t":2.8,"v":1.99},{"k":"d5","t":3,"v":1.98},{"k":"d5","t":3.2,"v":1.97},{"k":"d5","t":3.4,"v":1.95},{"k":"d5","t":3.6,"v":1.96},{"k":"d5","t":3.8,"v":1.94},{"k":"d5","t":4,"v":1.93},{"k":"d5","t":4.2,"v":1.94},{"k":"d5","t":4.4,"v":1.92},{"k":"d5","t":4.6,"v":1.93},{"k":"d5","t":4.8,"v":1.91},{"k":"d5","t":5,"v":1.92},{"k":"d5","t":5.2,"v":1.9},{"k":"d5","t":5.4,"v":1.92},{"k":"d5","t":5.6,"v":1.91},{"k":"d5","t":5.8,"v":1.9},{"k":"d5","t":6,"v":1.92},{"k":"d5","t":6.2,"v":1.9},{"k":"d5","t":6.4,"v":1.91},{"k":"d5","t":6.6,"v":1.89},{"k":"d5","t":6.8,"v":1.91},{"k":"d5","t":7,"v":1.9},{"k":"d5","t":7.2,"v":1.92},{"k":"d5","t":7.4,"v":1.9},{"k":"d5","t":7.6,"v":1.89},{"k":"d5","t":7.8,"v":1.91},{"k":"d5","t":8,"v":1.9},{"k":"d5","t":8.2,"v":1.92},{"k":"d5","t":8.4,"v":1.9},{"k":"d5","t":8.6,"v":1.91},{"k":"d5","t":8.8,"v":1.89},{"k":"d5","t":9,"v":1.9},{"k":"d5","t":9.2,"v":1.92},{"k":"d5","t":9.4,"v":1.9},{"k":"d5","t":9.6,"v":1.91},{"k":"d5","t":9.8,"v":1.9},{"k":"d5","t":10,"v":1.92},
{"k":"d6","t":-2,"v":0.14},{"k":"d6","t":-1.8,"v":0.17},{"k":"d6","t":-1.6,"v":0.12},{"k":"d6","t":-1.4,"v":0.16},{"k":"d6","t":-1.2,"v":0.13},{"k":"d6","t":-1,"v":0.18},{"k":"d6","t":-0.8,"v":0.14},{"k":"d6","t":-0.6,"v":0.12},{"k":"d6","t":-0.4,"v":0.16},{"k":"d6","t":-0.2,"v":0.15},{"k":"d6","t":0,"v":0.22},{"k":"d6","t":0.2,"v":0.4},{"k":"d6","t":0.4,"v":0.34},{"k":"d6","t":0.6,"v":0.25},{"k":"d6","t":0.8,"v":0.2},{"k":"d6","t":1,"v":0.18},{"k":"d6","t":1.2,"v":0.2},{"k":"d6","t":1.4,"v":0.15},{"k":"d6","t":1.6,"v":0.18},{"k":"d6","t":1.8,"v":0.13},{"k":"d6","t":2,"v":0.17},{"k":"d6","t":2.2,"v":0.15},{"k":"d6","t":2.4,"v":0.19},{"k":"d6","t":2.6,"v":0.13},{"k":"d6","t":2.8,"v":0.16},{"k":"d6","t":3,"v":0.14},{"k":"d6","t":3.2,"v":0.18},{"k":"d6","t":3.4,"v":0.12},{"k":"d6","t":3.6,"v":0.16},{"k":"d6","t":3.8,"v":0.15},{"k":"d6","t":4,"v":0.18},{"k":"d6","t":4.2,"v":0.13},{"k":"d6","t":4.4,"v":0.16},{"k":"d6","t":4.6,"v":0.14},{"k":"d6","t":4.8,"v":0.19},{"k":"d6","t":5,"v":0.13},{"k":"d6","t":5.2,"v":0.16},{"k":"d6","t":5.4,"v":0.15},{"k":"d6","t":5.6,"v":0.12},{"k":"d6","t":5.8,"v":0.17},{"k":"d6","t":6,"v":0.14},{"k":"d6","t":6.2,"v":0.18},{"k":"d6","t":6.4,"v":0.13},{"k":"d6","t":6.6,"v":0.16},{"k":"d6","t":6.8,"v":0.14},{"k":"d6","t":7,"v":0.17},{"k":"d6","t":7.2,"v":0.12},{"k":"d6","t":7.4,"v":0.15},{"k":"d6","t":7.6,"v":0.18},{"k":"d6","t":7.8,"v":0.14},{"k":"d6","t":8,"v":0.16},{"k":"d6","t":8.2,"v":0.13},{"k":"d6","t":8.4,"v":0.17},{"k":"d6","t":8.6,"v":0.15},{"k":"d6","t":8.8,"v":0.12},{"k":"d6","t":9,"v":0.16},{"k":"d6","t":9.2,"v":0.14},{"k":"d6","t":9.4,"v":0.18},{"k":"d6","t":9.6,"v":0.13},{"k":"d6","t":9.8,"v":0.16},{"k":"d6","t":10,"v":0.15}
]
},
"columns":2,
"spacing":{"row":21,"column":32},
"bounds":"flush",
"resolve":{"scale":{"color":"independent","shape":"independent"}},
"concat":[
{
 "width":157,"height":103,
 "encoding":{
  "x":{"field":"T","type":"quantitative","scale":{"domain":[0,270],"nice":false,"zero":false},"axis":{"values":[0,50,100,150,200,250],"title":null}},
  "y":{"field":"A","type":"quantitative","scale":{"domain":[-2,10.8],"nice":false,"zero":false},"axis":{"values":[-2,0,2,4,6,8,10],"title":"A (10⁻⁴)","titlePadding":3}}
 },
 "layer":[
  {"data":{"name":"fit"},"transform":[{"filter":"datum.p=='a'"}],"mark":{"type":"line","strokeWidth":1},"encoding":{"color":{"field":"s","type":"nominal","scale":{"domain":["A1g","B1g","B2g","fB1g","fB2g"],"range":["#808080","#ff0000","#0000ff","#f28a8a","#8a96ff"]},"legend":null}}},
  {"data":{"values":[{"T":0,"A":0},{"T":270,"A":0}]},"mark":{"type":"line","color":"#111","strokeWidth":1},"encoding":{}},
  {"data":{"name":"pts"},"transform":[{"filter":"datum.p=='a' && datum.s=='A1g'"}],"mark":{"type":"point","shape":"square","filled":false,"opacity":1,"strokeWidth":1,"size":20,"color":"#808080"},"encoding":{}},
  {"data":{"name":"pts"},"transform":[{"filter":"datum.p=='a' && datum.s!='A1g'"}],"mark":{"type":"point","filled":true,"opacity":1,"size":28},"encoding":{"color":{"field":"s","type":"nominal","scale":{"domain":["A1g","B1g","B2g","fB1g","fB2g"],"range":["#808080","#ff0000","#0000ff","#f28a8a","#8a96ff"]},"legend":null},"shape":{"field":"s","type":"nominal","scale":{"domain":["B1g","B2g"],"range":["circle","triangle-up"]},"legend":null}}},
  {"data":{"name":"legA"},"transform":[{"filter":"datum.s=='A1g'"}],"mark":{"type":"point","shape":"square","filled":false,"opacity":1,"strokeWidth":1,"size":20,"color":"#808080"},"encoding":{}},
  {"data":{"name":"legA"},"transform":[{"filter":"datum.s!='A1g'"}],"mark":{"type":"point","filled":true,"opacity":1,"size":28},"encoding":{"color":{"field":"s","type":"nominal","scale":{"domain":["A1g","B1g","B2g","fB1g","fB2g"],"range":["#808080","#ff0000","#0000ff","#f28a8a","#8a96ff"]},"legend":null},"shape":{"field":"s","type":"nominal","scale":{"domain":["B1g","B2g"],"range":["circle","triangle-up"]},"legend":null}}},
  {"data":{"name":"legAt"},"mark":{"type":"text","align":"left","baseline":"middle","fontSize":9.5,"color":"#111"},"encoding":{"text":{"field":"m"}}},
  {"data":{"name":"legAt"},"mark":{"type":"text","align":"left","baseline":"middle","fontSize":6.5,"dx":6.5,"dy":3,"color":"#111"},"encoding":{"text":{"field":"sub"}}},
  {"data":{"name":"legAt"},"mark":{"type":"text","align":"left","baseline":"middle","fontSize":9.5,"dx":15.5,"color":"#111"},"encoding":{"text":{"field":"x"}}},
  {"data":{"values":[{"T":3,"A":0.95,"txt":"a) OD"}]},"mark":{"type":"text","align":"left","baseline":"middle","fontSize":9.5,"color":"#111"},"encoding":{"text":{"field":"txt"}}}
 ]
},
{
 "width":156,"height":103,
 "encoding":{
  "x":{"field":"t","type":"quantitative","scale":{"domain":[-2,10],"nice":false,"zero":false},"axis":{"values":[-2,-1,0,1,2,3,4,5,6,7,8,9,10],"title":null}},
  "y":{"field":"v","type":"quantitative","scale":{"domain":[-0.3,6],"nice":false,"zero":false},"axis":{"values":[0,2,4,6],"title":"ΔR/R (10⁻⁴)","titlePadding":4}}
 },
 "layer":[
  {"data":{"name":"tr"},"transform":[{"filter":"indexof(datum.k,'c')==0"}],"mark":{"type":"line","strokeWidth":1},"encoding":{"color":{"field":"k","type":"nominal","scale":{"domain":["c1","c2","c3","c4","c5","c6"],"range":["#000000","#ff0000","#22dd22","#000000","#ff0000","#22dd22"]},"legend":null}}},
  {"data":{"name":"lab"},"transform":[{"filter":"datum.p=='c'"}],"mark":{"type":"text","align":"left","baseline":"middle","fontSize":9,"color":"#111"},"encoding":{"text":{"field":"txt"}}},
  {"data":{"name":"ell"},"transform":[{"filter":"datum.p=='c'"}],"mark":{"type":"point","shape":"M0,-1A0.2,1,0,1,1,0,1A0.2,1,0,1,1,0,-1Z","size":1700,"filled":false,"opacity":1,"color":"#555","strokeWidth":0.8},"encoding":{}},
  {"data":{"name":"bl"},"transform":[{"filter":"datum.p=='c'"}],"mark":{"type":"text","align":"left","baseline":"middle","fontSize":9.5,"color":"#111"},"encoding":{"text":{"field":"m"}}},
  {"data":{"name":"bl"},"transform":[{"filter":"datum.p=='c'"}],"mark":{"type":"text","align":"left","baseline":"middle","fontSize":6.5,"dx":6.5,"dy":3,"color":"#111"},"encoding":{"text":{"field":"sub"}}},
  {"data":{"values":[{"t":9.8,"v":5.75,"txt":"c) OD"}]},"mark":{"type":"text","align":"right","baseline":"middle","fontSize":9.5,"color":"#111"},"encoding":{"text":{"field":"txt"}}}
 ]
},
{
 "width":157,"height":103,
 "encoding":{
  "x":{"field":"T","type":"quantitative","scale":{"domain":[0,270],"nice":false,"zero":false},"axis":{"values":[0,50,100,150,200,250],"title":"T (K)","titlePadding":9}},
  "y":{"field":"A","type":"quantitative","scale":{"domain":[-1,14],"nice":false,"zero":false},"axis":{"values":[0,2,4,6,8,10,12,14],"title":"A (10⁻⁴)","titlePadding":3}}
 },
 "layer":[
  {"data":{"name":"fit"},"transform":[{"filter":"datum.p=='b'"}],"mark":{"type":"line","strokeWidth":1},"encoding":{"color":{"field":"s","type":"nominal","scale":{"domain":["A1g","B1g","B2g","fB1g","fB2g"],"range":["#808080","#ff0000","#0000ff","#f28a8a","#8a96ff"]},"legend":null}}},
  {"data":{"values":[{"T":0,"A":0},{"T":270,"A":0}]},"mark":{"type":"line","color":"#111","strokeWidth":1,"opacity":0.55},"encoding":{}},
  {"data":{"name":"pts"},"transform":[{"filter":"datum.p=='b' && datum.s=='A1g'"}],"mark":{"type":"point","shape":"square","filled":false,"opacity":1,"strokeWidth":1,"size":20,"color":"#808080"},"encoding":{}},
  {"data":{"name":"pts"},"transform":[{"filter":"datum.p=='b' && datum.s!='A1g'"}],"mark":{"type":"point","filled":true,"opacity":1,"size":28},"encoding":{"color":{"field":"s","type":"nominal","scale":{"domain":["A1g","B1g","B2g","fB1g","fB2g"],"range":["#808080","#ff0000","#0000ff","#f28a8a","#8a96ff"]},"legend":null},"shape":{"field":"s","type":"nominal","scale":{"domain":["B1g","B2g"],"range":["circle","triangle-up"]},"legend":null}}},
  {"data":{"name":"legB"},"transform":[{"filter":"datum.s=='A1g'"}],"mark":{"type":"point","shape":"square","filled":false,"opacity":1,"strokeWidth":1,"size":20,"color":"#808080"},"encoding":{}},
  {"data":{"name":"legB"},"transform":[{"filter":"datum.s!='A1g'"}],"mark":{"type":"point","filled":true,"opacity":1,"size":28},"encoding":{"color":{"field":"s","type":"nominal","scale":{"domain":["A1g","B1g","B2g","fB1g","fB2g"],"range":["#808080","#ff0000","#0000ff","#f28a8a","#8a96ff"]},"legend":null},"shape":{"field":"s","type":"nominal","scale":{"domain":["B1g","B2g"],"range":["circle","triangle-up"]},"legend":null}}},
  {"data":{"name":"legBt"},"mark":{"type":"text","align":"left","baseline":"middle","fontSize":9.5,"color":"#111"},"encoding":{"text":{"field":"m"}}},
  {"data":{"name":"legBt"},"mark":{"type":"text","align":"left","baseline":"middle","fontSize":6.5,"dx":6.5,"dy":3,"color":"#111"},"encoding":{"text":{"field":"sub"}}},
  {"data":{"name":"legBt"},"mark":{"type":"text","align":"left","baseline":"middle","fontSize":9.5,"dx":15.5,"color":"#111"},"encoding":{"text":{"field":"x"}}},
  {"data":{"values":[{"T":3,"A":1.3,"txt":"b) UD"}]},"mark":{"type":"text","align":"left","baseline":"middle","fontSize":9.5,"color":"#111"},"encoding":{"text":{"field":"txt"}}}
 ]
},
{
 "width":156,"height":103,
 "encoding":{
  "x":{"field":"t","type":"quantitative","scale":{"domain":[-2,10],"nice":false,"zero":false},"axis":{"values":[-2,-1,0,1,2,3,4,5,6,7,8,9,10],"title":"Delay (ps)","titlePadding":7}},
  "y":{"field":"v","type":"quantitative","scale":{"domain":[-0.4,12],"nice":false,"zero":false},"axis":{"values":[0,2,4,6,8,10,12],"title":"ΔR/R (10⁻⁴)","titlePadding":4}}
 },
 "layer":[
  {"data":{"name":"tr"},"transform":[{"filter":"indexof(datum.k,'d')==0"}],"mark":{"type":"line","strokeWidth":1},"encoding":{"color":{"field":"k","type":"nominal","scale":{"domain":["d1","d2","d3","d4","d5","d6"],"range":["#000000","#ff0000","#22dd22","#000000","#ff0000","#22dd22"]},"legend":null}}},
  {"data":{"name":"lab"},"transform":[{"filter":"datum.p=='d'"}],"mark":{"type":"text","align":"left","baseline":"middle","fontSize":9,"color":"#111"},"encoding":{"text":{"field":"txt"}}},
  {"data":{"name":"ell"},"transform":[{"filter":"datum.p=='d'"}],"mark":{"type":"point","shape":"M0,-1A0.2,1,0,1,1,0,1A0.2,1,0,1,1,0,-1Z","size":1700,"filled":false,"opacity":1,"color":"#555","strokeWidth":0.8},"encoding":{}},
  {"data":{"name":"bl"},"transform":[{"filter":"datum.p=='d'"}],"mark":{"type":"text","align":"left","baseline":"middle","fontSize":9.5,"color":"#111"},"encoding":{"text":{"field":"m"}}},
  {"data":{"name":"bl"},"transform":[{"filter":"datum.p=='d'"}],"mark":{"type":"text","align":"left","baseline":"middle","fontSize":6.5,"dx":6.5,"dy":3,"color":"#111"},"encoding":{"text":{"field":"sub"}}},
  {"data":{"values":[{"t":9.7,"v":10.6,"txt":"d) UD"}]},"mark":{"type":"text","align":"right","baseline":"middle","fontSize":9.5,"color":"#111"},"encoding":{"text":{"field":"txt"}}}
 ]
}
]
}
